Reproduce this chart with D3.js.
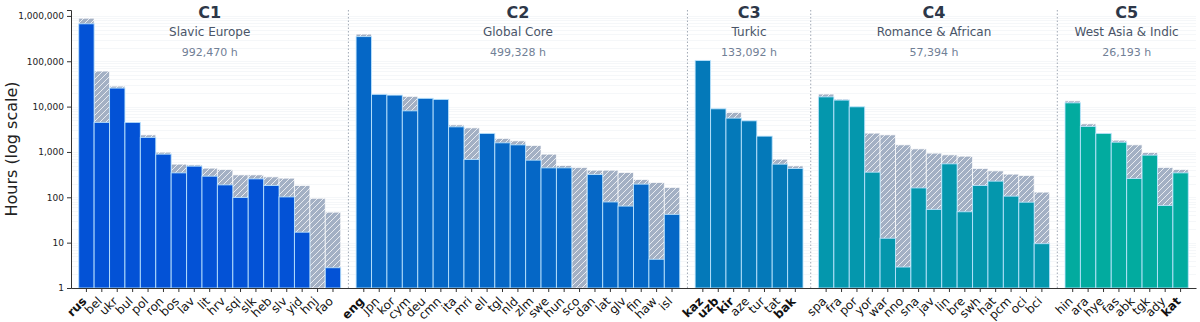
<!DOCTYPE html>
<html>
<head>
<meta charset="utf-8" />
<title>Hours by language cluster</title>
<script src="https://cdn.jsdelivr.net/npm/d3@7/dist/d3.min.js"></script>
<style>
  body { margin: 0; background: #fff; }
  text { font-family: "DejaVu Sans", sans-serif; }
</style>
</head>
<body>
<script>
// cluster info
var clusterIds = ['C1', 'C2', 'C3', 'C4', 'C5'];
var clusterNames = ['Slavic Europe', 'Global Core', 'Turkic', 'Romance & African', 'West Asia & Indic'];
var clusterTotals = ['992,470 h', '499,328 h', '133,092 h', '57,394 h', '26,193 h'];
var clusterColors = ['#0352d6', '#0567c6', '#0479b9', '#0497ad', '#02ab9f'];

// languages per cluster
var c1Langs = ['rus','bel','ukr','bul','pol','ron','bos','lav','lit','hrv','sqi','slk','heb','slv','yid','hnj','fao'];
var c2Langs = ['eng','jpn','kor','cym','deu','cmn','ita','mri','ell','tgl','nld','zlm','swe','hun','sco','dan','lat','glv','fin','haw','isl'];
var c3Langs = ['kaz','uzb','kir','aze','tur','tat','bak'];
var c4Langs = ['spa','fra','por','yor','war','nno','sna','jav','lin','bre','swh','hat','pcm','oci','bci'];
var c5Langs = ['hin','ara','hye','fas','abk','tgk','ady','kat'];

// solid part (hours) and full height incl. hatched part
var c1Solid = [670000, 4480, 25600, 4480, 2090, 894, 346, 486, 292, 188, 99, 255, 182, 102, 17, 0, 2.8];
var c1Total = [890000, 60800, 28300, 4550, 2380, 990, 538, 520, 439, 411, 312, 312, 282, 264, 182, 95, 47];
var c2Solid = [350000, 18600, 17900, 8070, 15200, 14400, 3580, 683, 2560, 1590, 1435, 659, 446, 446, 0, 318, 79, 64, 195, 4.3, 42];
var c2Total = [397000, 18700, 18000, 16800, 15300, 14500, 3960, 3400, 2580, 1990, 1760, 1390, 894, 503, 455, 396, 396, 352, 247, 212, 165];
var c3Solid = [104000, 8940, 5570, 4860, 2230, 538, 432];
var c3Total = [104000, 8940, 7450, 4860, 2230, 693, 493];
var c4Solid = [16400, 13900, 9900, 358, 12.5, 2.9, 161, 54, 547, 48, 182, 227, 106, 78, 9.5];
var c4Total = [18900, 14600, 9950, 2600, 2380, 1435, 1170, 941, 863, 808, 432, 383, 324, 303, 130];
var c5Solid = [12100, 3650, 2560, 1640, 260, 850, 66, 346];
var c5Total = [13400, 4170, 2600, 1820, 1435, 975, 455, 411];

var boldLangs = ['rus', 'eng', 'kaz', 'uzb', 'kir', 'bak', 'kat'];
var yTicks = [1, 10, 100, 1000, 10000, 100000, 1000000];

var langs = [c1Langs, c2Langs, c3Langs, c4Langs, c5Langs];
var solids = [c1Solid, c2Solid, c3Solid, c4Solid, c5Solid];
var totals = [c1Total, c2Total, c3Total, c4Total, c5Total];

var width = 1200, height = 322;
var margin = { top: 10, right: 4, bottom: 34, left: 71 };

// flat list of bars plus one empty slot between clusters
var bars = [];
var slots = [];
langs.forEach(function(list, ci){
    list.forEach(function(l, i){
        bars.push({ lang: l, cluster: ci, solid: solids[ci][i], total: totals[ci][i] });
        slots.push(l);
    });
    if (ci < langs.length - 1) slots.push('gap' + ci);
});

var x = d3.scaleBand().domain(slots)
    .range([margin.left, width - margin.right])
    .paddingInner(0).paddingOuter(0.5);
var y = d3.scaleLog().domain([1, 1.35e6]).range([height - margin.bottom, margin.top]);

var svg = d3.select('body').append('svg').attr('width', width).attr('height', height);

var defs = svg.append('defs');
var pat = defs.append('pattern').attr('id', 'hatch')
    .attr('patternUnits', 'userSpaceOnUse').attr('width', 6).attr('height', 6);
pat.append('rect').attr('width', 6).attr('height', 6).attr('fill', '#a3b0c4');
pat.append('path').attr('d', 'M-1,1 l2,-2 M0,6 l6,-6 M5,7 l2,-2')
    .attr('stroke', '#ffffff').attr('stroke-width', 0.9).attr('stroke-opacity', 0.85);

// faint log grid
var gridVals = [];
for (var p = 0; p <= 6; p++) {
    for (var m = 1; m <= 9; m++) {
        var v = m * Math.pow(10, p);
        if (v <= 1.35e6) gridVals.push(v);
    }
}
svg.append('g').selectAll('line').data(gridVals).enter().append('line')
    .attr('x1', margin.left).attr('x2', width - margin.right)
    .attr('y1', function(d){ return Math.round(y(d)) + 0.5; })
    .attr('y2', function(d){ return Math.round(y(d)) + 0.5; })
    .attr('stroke', '#f1f3f6').attr('stroke-width', 0.7);

// separators between clusters
svg.append('g').selectAll('line').data(slots.filter(function(s){ return s.indexOf('gap') === 0; }))
    .enter().append('line')
    .attr('x1', function(d){ return x(d) + x.bandwidth() / 2; })
    .attr('x2', function(d){ return x(d) + x.bandwidth() / 2; })
    .attr('y1', margin.top).attr('y2', height - margin.bottom)
    .attr('stroke', '#a0a8b4').attr('stroke-width', 1).attr('stroke-dasharray', '1.5,2');

var base = y(1);

// hatched part (full height)
svg.append('g').selectAll('rect').data(bars).enter().append('rect')
    .attr('x', function(d){ return x(d.lang); })
    .attr('width', x.bandwidth())
    .attr('y', function(d){ return y(d.total); })
    .attr('height', function(d){ return base - y(d.total); })
    .attr('fill', 'url(#hatch)')
    .attr('stroke', '#ffffff').attr('stroke-opacity', 0.7).attr('stroke-width', 1);

// solid part
svg.append('g').selectAll('rect').data(bars.filter(function(d){ return d.solid >= 1; })).enter().append('rect')
    .attr('x', function(d){ return x(d.lang); })
    .attr('width', x.bandwidth())
    .attr('y', function(d){ return y(d.solid); })
    .attr('height', function(d){ return base - y(d.solid); })
    .attr('fill', function(d){ return clusterColors[d.cluster]; })
    .attr('stroke', '#bfe6ff').attr('stroke-opacity', 0.85).attr('stroke-width', 1);

// axes
var yAxis = d3.axisLeft(y).tickValues(yTicks).tickFormat(d3.format(',')).tickSize(4);
var gy = svg.append('g').attr('transform', 'translate(' + margin.left + ',0)').call(yAxis);
gy.select('.domain').attr('stroke', '#333');
gy.selectAll('.tick line').attr('stroke', '#333');
gy.selectAll('text').attr('font-size', 9).attr('fill', '#222');

var xAxis = d3.axisBottom(x).tickValues(bars.map(function(d){ return d.lang; })).tickSize(4).tickSizeOuter(0);
var gx = svg.append('g').attr('transform', 'translate(0,' + base + ')').call(xAxis);
gx.select('.domain').attr('stroke', '#333');
gx.selectAll('.tick line').attr('stroke', '#333');
gx.selectAll('text')
    .attr('font-size', 12).attr('fill', '#111')
    .attr('font-weight', function(d){ return boldLangs.indexOf(d) >= 0 ? 'bold' : 'normal'; })
    .attr('text-anchor', 'end')
    .attr('dy', null).attr('y', 0)
    .attr('transform', 'translate(1,14) rotate(-45)');

// y label
svg.append('text')
    .attr('transform', 'translate(17,' + (margin.top + (base - margin.top) / 2) + ') rotate(-90)')
    .attr('text-anchor', 'middle')
    .attr('font-size', 16).attr('fill', '#222')
    .text('Hours (log scale)');

// cluster headers
clusterIds.forEach(function(id, ci){
    var list = langs[ci];
    var cx = (x(list[0]) + x(list[list.length - 1]) + x.bandwidth()) / 2;
    svg.append('text').attr('x', cx).attr('y', 18).attr('text-anchor', 'middle')
        .attr('font-size', 16).attr('font-weight', 'bold').attr('fill', '#2d3748').text(id);
    svg.append('text').attr('x', cx).attr('y', 36).attr('text-anchor', 'middle')
        .attr('font-size', 12).attr('fill', '#4a5568').text(clusterNames[ci]);
    svg.append('text').attr('x', cx).attr('y', 56).attr('text-anchor', 'middle')
        .attr('font-size', 11).attr('fill', '#718096').text(clusterTotals[ci]);
});
</script>
</body>
</html>
